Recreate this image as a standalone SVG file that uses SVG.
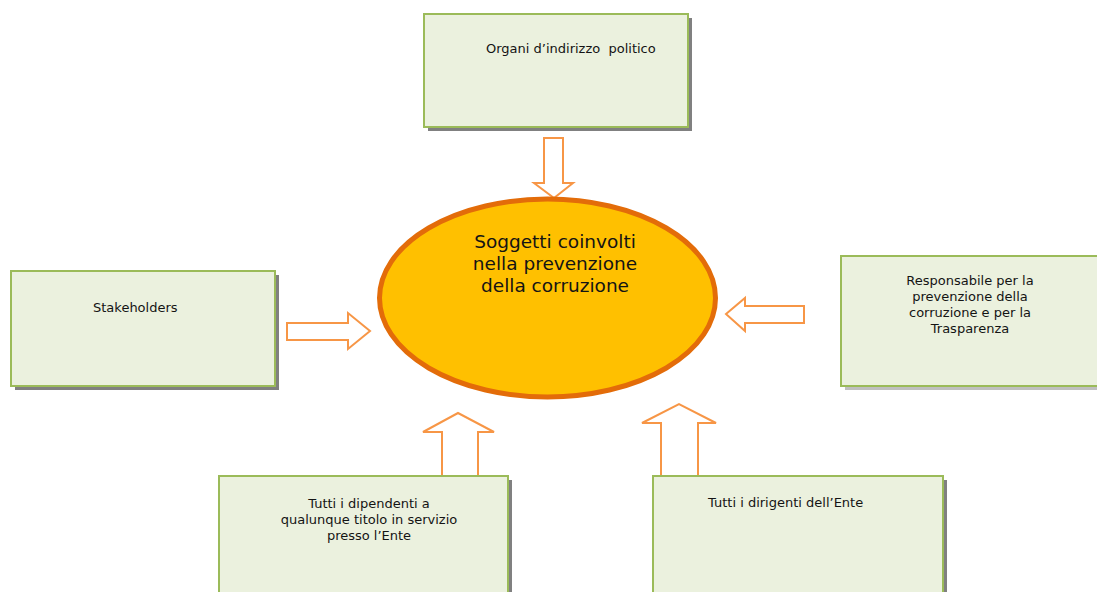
<svg xmlns="http://www.w3.org/2000/svg" width="1097" height="592" viewBox="0 0 1097 592">
<style>
.box{fill:#ebf1de;stroke:#9bbb59;stroke-width:2}
.sh{fill:#808080}
.arr{fill:#ffffff;stroke:#f79646;stroke-width:2;stroke-linejoin:miter}
.t{font-family:"DejaVu Sans",Verdana,sans-serif;font-size:13px;fill:#141414;white-space:pre}
.c{text-anchor:middle}
.big{font-family:"DejaVu Sans",Verdana,sans-serif;font-size:18.5px;fill:#141414;text-anchor:middle}
</style>
<rect width="1097" height="592" fill="#ffffff"/>
<g id="connectors">
<polygon class="arr" points="544,138 563,138 563,183 573,183 554,198 534,183 544,183"/>
<polygon class="arr" points="287,323 348,323 348,313 370,331 348,349 348,340 287,340"/>
<polygon class="arr" points="804,306 745,306 745,298 726,314 745,331 745,323 804,323"/>
<polygon class="arr" points="442,476 442,432 423,432 458,413 494,432 478,432 478,476"/>
<polygon class="arr" points="661,476 661,423 642,423 679,404 716,423 698,423 698,476"/>
</g>
<g id="n-organi">
<rect class="sh" x="428" y="18" width="264" height="113"/>
<rect class="box" x="424" y="14" width="264" height="113"/>
<text class="t" x="486" y="53" xml:space="preserve">Organi d’indirizzo  politico</text>
</g>
<g id="n-stakeholders">
<rect class="sh" x="15" y="275" width="264" height="115"/>
<rect class="box" x="11" y="271" width="264" height="115"/>
<text class="t" x="93" y="312">Stakeholders</text>
</g>
<g id="n-responsabile">
<rect x="845" y="260" width="260" height="130" fill="#bfbfbf"/>
<rect class="box" x="841" y="256" width="260" height="130"/>
<text class="t c" x="970" y="285">Responsabile per la</text>
<text class="t c" x="970" y="301">prevenzione della</text>
<text class="t c" x="970" y="317">corruzione e per la</text>
<text class="t c" x="970" y="333">Trasparenza</text>
</g>
<g id="n-dipendenti">
<rect class="sh" x="223" y="480" width="289" height="130"/>
<rect class="box" x="219" y="476" width="289" height="130"/>
<text class="t c" x="369" y="508">Tutti i dipendenti a</text>
<text class="t c" x="369" y="524">qualunque titolo in servizio</text>
<text class="t c" x="369" y="540">presso l’Ente</text>
</g>
<g id="n-dirigenti">
<rect class="sh" x="657" y="480" width="290" height="130"/>
<rect class="box" x="653" y="476" width="290" height="130"/>
<text class="t" x="708" y="507">Tutti i dirigenti dell’Ente</text>
</g>
<g id="n-centro">
<ellipse cx="547.5" cy="298" rx="168" ry="99" fill="#ffc000" stroke="#e36c09" stroke-width="5"/>
<text class="big" x="555" y="248">Soggetti coinvolti</text>
<text class="big" x="555" y="270">nella prevenzione</text>
<text class="big" x="555" y="292">della corruzione</text>
</g>
</svg>
